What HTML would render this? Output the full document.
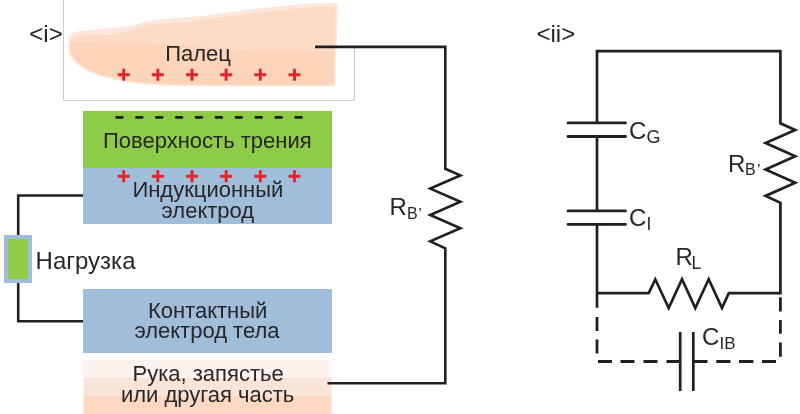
<!DOCTYPE html>
<html><head><meta charset="utf-8">
<style>
html,body{margin:0;padding:0;background:#fff;width:800px;height:414px;overflow:hidden}
svg{position:absolute;left:0;top:0;display:block;will-change:transform}
text{font-family:"Liberation Sans",sans-serif;fill:#282627}
</style></head><body>
<svg width="800" height="414" viewBox="0 0 800 414">
<!-- frame -->
<path d="M63.5 0 V100.5 H354.5 V47" fill="none" stroke="#c8cace" stroke-width="1"/>
<!-- finger -->
<path d="M68 47 C68 38 70 33 76 31.5 L110 28 L129 26 L147.5 21.5 L166 18.8 L204 15.8 L232 12 L260 8.2 L309 3.5 L338 2.5 L335.5 86.5 L220 86.5 L164 85.7 C140 84.5 120 82 98 75.5 C80 69 68 60 68 47 Z" fill="#fbe8dc"/>
<path d="M70 47 C70 40 72 36.5 77 35.5 L110 34.5 L129 31 L147.5 24.4 L185 22.5 L207.5 18.8 L241 15 L260 12.5 L309 7 L335.5 6 L333.5 85 L220 85 L164 84.2 C141 83 121 80.5 99 74 C82 68 70 59 70 47 Z" fill="#fddcc7"/>
<path d="M70.5 47 C70.5 44 72 42 76 42 L150 43 L185 46 L250 50.5 L334.5 51.5 L333.5 85 L220 85 L164 84.2 C141 83 121 80.5 99 74 C82 68 70.5 59 70.5 47 Z" fill="#fbd4b9"/>
<text x="165.2" y="60.5" font-size="22">Палец</text>
<!-- plus signs finger -->

<!-- green friction layer -->
<rect x="83" y="111" width="249" height="57" fill="#8dcb48"/>
<text x="103" y="148" font-size="22">Поверхность трения</text>
<!-- blue induction electrode -->
<rect x="83" y="168" width="249" height="56" fill="#a0bdda"/>
<text x="132.4" y="197.2" font-size="22">Индукционный</text>
<text x="161.6" y="217.6" font-size="22">электрод</text>
<!-- contact electrode -->
<rect x="83" y="289" width="249" height="64" fill="#a0bdda"/>
<text x="147.9" y="317.6" font-size="22">Контактный</text>
<text x="134.4" y="338" font-size="22">электрод тела</text>
<!-- hand -->
<rect x="83.5" y="360" width="248" height="18" fill="#fdf2ec"/>
<rect x="83.5" y="378" width="248" height="18" fill="#f9e4d8"/>
<rect x="83.5" y="396" width="248" height="18" fill="#fdd9c3"/>
<text x="132.5" y="381" font-size="22">Рука, запястье</text>
<text x="120.9" y="402" font-size="22">или другая часть</text>
<!-- load -->
<rect x="4" y="235" width="28" height="48" fill="#a0bdda"/>
<rect x="8" y="239" width="20" height="40" fill="#8dcb48"/>
<text x="35.6" y="269" font-size="24">Нагрузка</text>
<!-- wires left -->
<g fill="none" stroke="#231f20" stroke-width="2.6" stroke-linejoin="miter" stroke-linecap="butt">
<path d="M83 195.5 H18.2 V235"/>
<path d="M18.2 283 V321.2 H83"/>
<path d="M315 46.9 H445.3 V168.8 L460.4 175.4 L430.2 188.6 L460.4 201.8 L430.2 215 L460.4 228.2 L430.2 241.4 L445.3 248.4 V383.3 H327.5"/>
</g>
<text x="389.5" y="215.3" font-size="24">R</text>
<text x="407" y="218.8" font-size="16">B</text><text x="418.2" y="219.5" font-size="16">’</text>
<text x="29.3" y="42" font-size="24">&lt;i&gt;</text>
<!-- right circuit -->
<text x="536.5" y="42" font-size="24">&lt;ii&gt;</text>
<g fill="none" stroke="#231f20" stroke-width="2.7" stroke-linejoin="miter">
<path d="M597 122.9 V51.1 H780.4 V123.3 L795.2 129.9 L765.6 143.1 L795.2 156.3 L765.6 169.5 L795.2 182.7 L765.6 195.9 L780.4 202.8 V294.5"/>
<path d="M597 136.5 V210.9"/>
<path d="M597 224.4 V307.8"/>
<path d="M597 293.2 H648.7 L655.3 279.3 L668.7 308 L682 279.3 L695.3 308 L708.7 279.3 L722 308 L728.8 293.2 H780.4"/>
<path d="M680.2 332 V391.1 M693.3 332 V391.1"/>
</g>
<g fill="none" stroke="#231f20" stroke-width="2.8" stroke-linecap="round">
<path d="M568 122.9 H625.5 M568 136.5 H625.5"/>
<path d="M568 210.9 H625.5 M568 224.4 H625.5"/>
</g>
<g fill="none" stroke="#231f20" stroke-width="2.8">
<path d="M597 317 V331 M597 339.5 V353.5"/>
<path d="M598 361.5 H612 M620.5 361.5 H634.5 M643.5 361.5 H657.5 M666.5 361.5 H680.2"/>
<path d="M693.3 361.5 H707.5 M716.3 361.5 H730.5 M739 361.5 H753.4 M762 361.5 H776"/>
<path d="M780.4 297.3 V311.6 M780.4 319.9 V333.7 M780.4 342.5 V356.8"/>
</g>
<text x="629" y="138.5" font-size="24">C</text>
<text x="646.5" y="142.6" font-size="18">G</text>
<text x="629" y="226" font-size="24">C</text>
<text x="646.6" y="229.8" font-size="17.5">I</text>
<text x="675.5" y="264.7" font-size="24">R</text>
<text x="691.5" y="269" font-size="17.5">L</text>
<text x="728" y="171.7" font-size="24">R</text>
<text x="745" y="175.1" font-size="16">B</text><text x="757" y="176" font-size="16">’</text>
<text x="702" y="345.3" font-size="24">C</text>
<text x="719.6" y="348.6" font-size="17">IB</text>
<path d="M117.70 74.70 h12 M123.70 68.70 v12 M151.85 74.70 h12 M157.85 68.70 v12 M186.00 74.70 h12 M192.00 68.70 v12 M220.15 74.70 h12 M226.15 68.70 v12 M254.30 74.70 h12 M260.30 68.70 v12 M288.45 74.70 h12 M294.45 68.70 v12 M117.70 176.20 h12 M123.70 170.20 v12 M151.85 176.20 h12 M157.85 170.20 v12 M186.00 176.20 h12 M192.00 170.20 v12 M220.15 176.20 h12 M226.15 170.20 v12 M254.30 176.20 h12 M260.30 170.20 v12 M288.45 176.20 h12 M294.45 170.20 v12" fill="none" stroke="#e0262c" stroke-width="3"/>
<path d="M116.6 117.4 h5.7 M136.5 117.4 h5.7 M156.4 117.4 h5.7 M176.3 117.4 h5.7 M196.2 117.4 h5.7 M216.1 117.4 h5.7 M236.0 117.4 h5.7 M255.9 117.4 h5.7 M275.8 117.4 h5.7 M295.7 117.4 h5.7" fill="none" stroke="#231f20" stroke-width="2.8" stroke-linecap="round"/>
</svg>
</body></html>
